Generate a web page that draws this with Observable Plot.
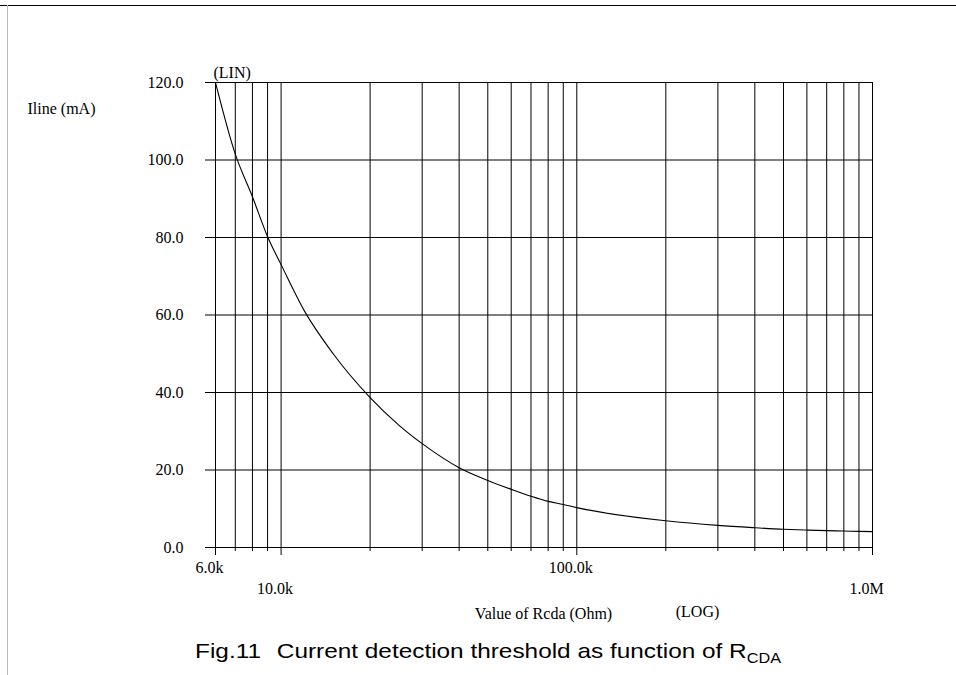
<!DOCTYPE html>
<html>
<head>
<meta charset="utf-8">
<script src="https://cdn.jsdelivr.net/npm/d3@7"></script>
<script src="https://cdn.jsdelivr.net/npm/@observablehq/plot@0.6"></script>
<style>
  html, body { margin: 0; padding: 0; background: #fff; }
  #page { position: relative; width: 956px; height: 675px; overflow: hidden; }
  #topline { position: absolute; left: 0; top: 5px; width: 956px; height: 1px; background: #000; }
  #leftline { position: absolute; left: 7px; top: 5px; width: 1px; height: 670px; background: #bbb; }
  #chart { position: absolute; left: 0; top: 0; }
  #caption { position: absolute; top: 639px; left: 488px; transform: translateX(-50%) scaleX(1.16);
    font-family: "Liberation Sans", Arial, sans-serif; font-size: 21px; line-height: 24px;
    white-space: pre; color: #000; }
  #caption .fig { margin-right: 2px; }
  #caption sub { font-size: 14px; vertical-align: -5px; line-height: 0; }
</style>
</head>
<body>
<div id="page">
  <div id="topline"></div>
  <div id="leftline"></div>
  <div id="chart"></div>
  <div id="caption"><span class="fig">Fig.11</span>  Current detection threshold as function of R<sub>CDA</sub></div>
</div>
<script>
// Data
const rcda = [6000, 7000, 8000, 9000, 10000, 12000, 15000, 20000, 25000, 30000, 40000, 50000, 60000, 70000, 80000, 90000, 100000, 200000, 300000, 400000, 500000, 600000, 700000, 800000, 900000, 1000000];
const iline = [120, 101.5, 90.5, 80.2, 73, 61, 50, 38.7, 31.6, 26.8, 20.6, 17.3, 15.0, 13.2, 11.9, 11.1, 10.3, 6.9, 5.7, 5.1, 4.7, 4.5, 4.35, 4.25, 4.15, 4.1];

const majorX = [6000, 10000, 100000, 1000000];
const minorX = [7000, 8000, 9000, 20000, 30000, 40000, 50000, 60000, 70000, 80000, 90000, 200000, 300000, 400000, 500000, 600000, 700000, 800000, 900000];
const yTicks = [0, 20, 40, 60, 80, 100, 120];
const xLabelsUpper = [6000, 100000];
const xLabelsLower = [10000, 1000000];

const yLabel = "Iline (mA)";
const yScaleNote = "(LIN)";
const xLabel = "Value of Rcda (Ohm)";
const xScaleNote = "(LOG)";

const data = rcda.map((r, i) => ({r, v: iline[i]}));
const fmtX = d => d >= 1e6 ? (d / 1e6).toFixed(1) + "M" : (d / 1e3).toFixed(1) + "k";

const chart = Plot.plot({
  width: 956,
  height: 630,
  marginLeft: 215,
  marginRight: 84,
  marginTop: 82,
  marginBottom: 83,
  style: {fontFamily: "'Liberation Serif', 'Times New Roman', serif", fontSize: "16px", color: "#000", background: "transparent", overflow: "visible"},
  x: {type: "log", domain: [6000, 1000000], axis: null},
  y: {domain: [0, 120], axis: null},
  marks: [
    Plot.ruleX(minorX, {stroke: "#000", strokeWidth: 1, insetBottom: -4}),
    Plot.ruleX(majorX, {stroke: "#000", strokeWidth: 1, insetBottom: -8}),
    Plot.ruleY(yTicks, {stroke: "#000", strokeWidth: 1, insetLeft: -10}),
    Plot.text(yTicks, {y: d => d, text: d => d.toFixed(1), frameAnchor: "left", textAnchor: "end", lineAnchor: "middle", dx: -32, fontSize: 16}),
    Plot.text(xLabelsUpper, {x: d => d, text: fmtX, frameAnchor: "bottom", lineAnchor: "top", dy: 14, dx: -6, fontSize: 16}),
    Plot.text(xLabelsLower, {x: d => d, text: fmtX, frameAnchor: "bottom", lineAnchor: "top", dy: 35, dx: -6, fontSize: 16}),
    Plot.line(data, {x: "r", y: "v", stroke: "#000", strokeWidth: 1.1, curve: "monotone-x"}),
    Plot.text([yLabel], {frameAnchor: "top-left", textAnchor: "start", lineAnchor: "middle", dx: -188, dy: 26, fontSize: 16}),
    Plot.text([yScaleNote], {frameAnchor: "top-left", textAnchor: "start", lineAnchor: "middle", dx: -2, dy: -10, fontSize: 16}),
    Plot.text([xLabel], {frameAnchor: "bottom-left", textAnchor: "middle", lineAnchor: "middle", dx: 328, dy: 66, fontSize: 16}),
    Plot.text([xScaleNote], {frameAnchor: "bottom-left", textAnchor: "middle", lineAnchor: "middle", dx: 482, dy: 64, fontSize: 16})
  ]
});
document.getElementById("chart").appendChild(chart);
</script>
</body>
</html>
